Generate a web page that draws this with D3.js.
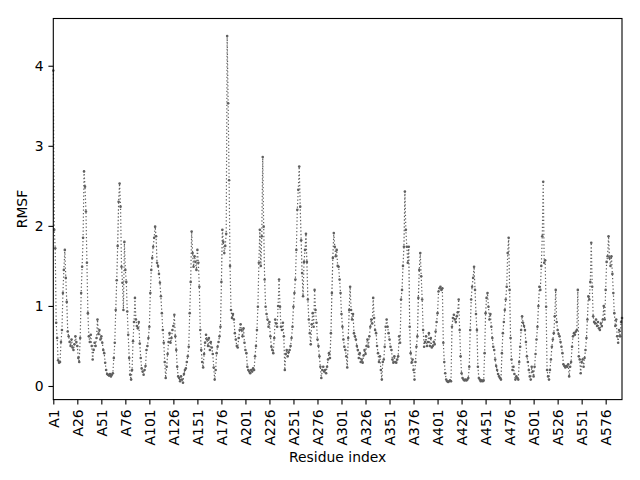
<!DOCTYPE html>
<html>
<head>
<meta charset="utf-8">
<script src="https://cdn.jsdelivr.net/npm/d3@7"></script>
<style>
  body { margin: 0; background: #fff; }
  svg text { font-family: "DejaVu Sans", sans-serif; }
</style>
</head>
<body>
<svg id="chart" width="640" height="480"></svg>
<script>
"use strict";

// RMSF per residue (index 0 = A1)
const rmsf = [
  3.94, 1.95, 1.72, 0.79, 0.6, 0.32, 0.29, 0.3, 0.55, 0.7, 1.16, 1.45, 1.7, 1.35, 1.05, 0.68, 0.62, 0.55, 0.5, 0.58, 0.48, 0.45, 0.52, 0.62, 0.55,
  0.5, 0.35, 0.3, 0.6, 1.16, 1.49, 1.85, 2.68, 2.49, 2.18, 1.54, 0.91, 0.62, 0.55, 0.64, 0.5, 0.33, 0.45, 0.54, 0.5, 0.6, 0.83, 0.65, 0.7, 0.58,
  0.62, 0.54, 0.45, 0.41, 0.29, 0.2, 0.15, 0.14, 0.13, 0.15, 0.12, 0.14, 0.16, 0.35, 0.54, 0.95, 1.32, 1.75, 2.3, 2.53, 2.24, 1.49, 1.29, 0.95, 1.8,
  1.45, 1.3, 0.93, 0.64, 0.35, 0.14, 0.08, 0.2, 0.56, 0.8, 1.1, 0.83, 0.75, 0.72, 0.8, 0.53, 0.35, 0.22, 0.18, 0.14, 0.2, 0.25, 0.45, 0.5, 0.6,
  0.74, 1.16, 1.45, 1.6, 1.74, 1.85, 1.99, 1.87, 1.54, 1.5, 1.4, 1.29, 1.12, 0.91, 0.7, 0.54, 0.3, 0.1, 0.24, 0.4, 0.55, 0.66, 0.54, 0.6, 0.7,
  0.75, 0.89, 0.62, 0.45, 0.24, 0.12, 0.1, 0.06, 0.12, 0.08, 0.04, 0.15, 0.2, 0.22, 0.3, 0.37, 0.49, 0.91, 1.3, 1.93, 1.66, 1.49, 1.62, 1.55, 1.45,
  1.7, 1.54, 1.24, 0.7, 0.45, 0.3, 0.23, 0.4, 0.54, 0.64, 0.58, 0.5, 0.6, 0.45, 0.55, 0.48, 0.4, 0.23, 0.08, 0.2, 0.41, 0.49, 0.55, 0.62, 0.74,
  1.3, 1.95, 1.8, 1.66, 1.75, 1.9, 4.37, 3.53, 2.57, 1.5, 0.95, 0.85, 0.9, 0.83, 0.66, 0.58, 0.5, 0.48, 0.6, 0.7, 0.77, 0.7, 0.62, 0.72, 0.54,
  0.45, 0.41, 0.24, 0.2, 0.18, 0.16, 0.2, 0.18, 0.22, 0.2, 0.37, 0.5, 0.7, 0.99, 1.54, 1.95, 1.5, 1.87, 2.86, 1.99, 1.33, 0.99, 0.9, 0.83, 0.74,
  0.8, 0.62, 0.49, 0.45, 0.41, 0.6, 0.83, 0.78, 0.74, 1.0, 1.33, 0.99, 0.74, 0.7, 0.79, 0.62, 0.2, 0.4, 0.45, 0.37, 0.42, 0.45, 0.5, 0.6, 0.74,
  0.99, 1.16, 1.33, 1.7, 2.2, 2.45, 2.74, 2.24, 1.82, 1.41, 1.12, 1.55, 1.7, 1.9, 1.55, 1.08, 0.83, 0.66, 0.52, 0.77, 0.91, 0.74, 1.2, 0.95, 0.79,
  0.58, 0.5, 0.37, 0.24, 0.1, 0.2, 0.24, 0.18, 0.2, 0.16, 0.24, 0.33, 0.41, 0.35, 0.66, 1.16, 1.6, 1.91, 1.74, 1.62, 1.7, 1.5, 1.49, 1.33, 1.16,
  0.9, 0.74, 0.58, 0.49, 0.45, 0.37, 0.23, 0.6, 0.95, 1.24, 0.95, 0.83, 0.9, 0.66, 0.62, 0.58, 0.5, 0.45, 0.35, 0.41, 0.3, 0.33, 0.29, 0.38, 0.45,
  0.4, 0.5, 0.58, 0.49, 0.62, 0.74, 0.83, 0.78, 1.1, 0.85, 0.7, 0.66, 0.5, 0.41, 0.3, 0.37, 0.2, 0.08, 0.3, 0.33, 0.49, 0.74, 0.83, 0.74, 0.66,
  0.58, 0.49, 0.45, 0.33, 0.29, 0.37, 0.3, 0.29, 0.33, 0.37, 0.62, 0.54, 1.08, 1.2, 1.5, 1.74, 2.43, 1.95, 1.74, 1.54, 1.74, 0.74, 0.41, 0.29, 0.33,
  0.2, 0.08, 0.3, 0.49, 0.62, 1.1, 1.45, 1.66, 1.37, 1.08, 0.7, 0.49, 0.55, 0.62, 0.5, 0.55, 0.66, 0.5, 0.6, 0.48, 0.5, 0.55, 0.52, 0.68, 0.8,
  0.91, 1.18, 1.22, 1.24, 1.2, 1.22, 0.54, 0.3, 0.16, 0.08, 0.06, 0.05, 0.06, 0.07, 0.06, 0.74, 0.85, 0.89, 0.83, 0.8, 0.87, 0.92, 1.08, 0.7, 0.37,
  0.16, 0.1, 0.08, 0.07, 0.08, 0.07, 0.08, 0.1, 0.24, 0.7, 1.08, 1.24, 1.35, 1.49, 1.2, 0.9, 0.7, 0.24, 0.1, 0.08, 0.06, 0.07, 0.06, 0.07, 0.41,
  0.91, 1.1, 1.16, 0.99, 0.83, 0.9, 0.74, 0.6, 0.49, 0.45, 0.33, 0.25, 0.2, 0.15, 0.12, 0.1, 0.08, 0.41, 0.66, 0.8, 0.95, 1.08, 1.24, 1.66, 1.85,
  1.2, 0.6, 0.33, 0.2, 0.24, 0.15, 0.08, 0.12, 0.1, 0.08, 0.3, 0.49, 0.7, 0.87, 0.79, 0.75, 0.7, 0.55, 0.37, 0.3, 0.2, 0.12, 0.08, 0.24, 0.18,
  0.12, 0.24, 0.4, 0.58, 0.74, 1.0, 1.24, 1.2, 1.5, 1.87, 2.55, 1.54, 1.57, 0.99, 0.2, 0.12, 0.08, 0.2, 0.33, 0.49, 0.58, 0.66, 0.87, 1.2, 0.8,
  0.7, 0.65, 0.62, 0.55, 0.49, 0.41, 0.27, 0.25, 0.23, 0.25, 0.24, 0.27, 0.12, 0.24, 0.3, 0.49, 0.62, 0.66, 0.64, 0.68, 0.7, 1.2, 0.37, 0.33, 0.16,
  0.3, 0.33, 0.24, 0.35, 0.45, 0.6, 0.83, 1.12, 1.08, 1.3, 1.79, 1.24, 0.87, 0.8, 0.78, 0.83, 0.75, 0.8, 0.72, 0.7, 0.78, 0.75, 0.83, 1.0, 0.83,
  1.2, 1.55, 1.62, 1.87, 1.6, 1.5, 1.62, 1.4, 1.16, 0.91, 0.75, 0.83, 0.62, 0.54, 0.7, 0.62, 0.8, 0.85
];

// x tick positions (residue index) and their labels
const tickIndex = [0, 25, 50, 75, 100, 125, 150, 175, 200, 225, 250, 275, 300, 325, 350, 375, 400, 425, 450, 475, 500, 525, 550, 575];
const tickLabels = ["A1", "A26", "A51", "A76", "A101", "A126", "A151", "A176", "A201", "A226", "A251", "A276",
                    "A301", "A326", "A351", "A376", "A401", "A426", "A451", "A476", "A501", "A526", "A551", "A576"];
const yTicks = [0, 1, 2, 3, 4];

const svg = d3.select("#chart");
const plotLeft = 53.3, plotRight = 622, plotTop = 18.5, plotBottom = 399.6;
const lineColor = "#5f5f5f";

const x = d3.scaleLinear().domain([0, rmsf.length - 1]).range([plotLeft, plotRight]);
const y = d3.scaleLinear().domain([-0.17, 4.59]).range([plotBottom, plotTop]);

// data line: dotted, with small round markers
const line = d3.line()
    .x(function(d, i) { return x(i); })
    .y(function(d) { return y(d); });

svg.append("path")
    .datum(rmsf)
    .attr("fill", "none")
    .attr("stroke", lineColor)
    .attr("stroke-width", 1.2)
    .attr("stroke-dasharray", "1.3,2.2")
    .attr("d", line);

svg.append("g")
    .selectAll("circle")
    .data(rmsf)
    .enter()
    .append("circle")
    .attr("cx", function(d, i) { return x(i); })
    .attr("cy", function(d) { return y(d); })
    .attr("r", 1.3)
    .attr("fill", lineColor);

// axes
const xAxis = d3.axisBottom(x)
    .tickValues(tickIndex)
    .tickFormat(function(d, i) { return tickLabels[i]; })
    .tickSize(4.9)
    .tickPadding(4.9)
    .tickSizeOuter(0);

const gx = svg.append("g")
    .attr("transform", "translate(0," + plotBottom + ")")
    .call(xAxis);

gx.selectAll("text")
    .attr("transform", "rotate(-90)")
    .attr("x", -9.8)
    .attr("y", 0)
    .attr("dy", "0.35em")
    .attr("text-anchor", "end");

const yAxis = d3.axisLeft(y)
    .tickValues(yTicks)
    .tickFormat(d3.format("d"))
    .tickSize(4.9)
    .tickPadding(4.9)
    .tickSizeOuter(0);

svg.append("g")
    .attr("transform", "translate(" + plotLeft + ",0)")
    .call(yAxis);

svg.selectAll(".tick text")
    .attr("font-size", 13.9)
    .attr("font-family", "DejaVu Sans")
    .attr("fill", "#000");
svg.selectAll(".tick line").attr("stroke", "#000").attr("stroke-width", 1.1);
svg.selectAll(".domain").remove();

// frame
svg.append("rect")
    .attr("x", plotLeft)
    .attr("y", plotTop)
    .attr("width", plotRight - plotLeft)
    .attr("height", plotBottom - plotTop)
    .attr("fill", "none")
    .attr("stroke", "#000")
    .attr("stroke-width", 1.1);

// axis titles
svg.append("text")
    .attr("x", (plotLeft + plotRight) / 2)
    .attr("y", 462)
    .attr("text-anchor", "middle")
    .attr("font-size", 13.9)
    .text("Residue index");

svg.append("text")
    .attr("transform", "translate(27," + ((plotTop + plotBottom) / 2) + ") rotate(-90)")
    .attr("text-anchor", "middle")
    .attr("font-size", 13.9)
    .text("RMSF");
</script>
</body>
</html>
